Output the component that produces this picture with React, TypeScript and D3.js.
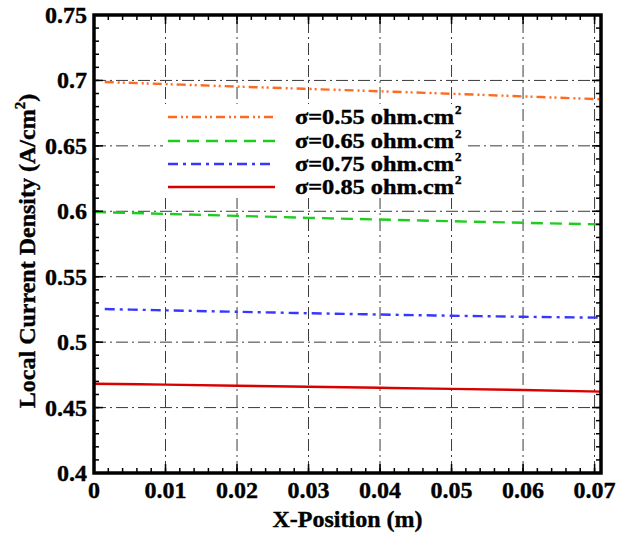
import React from "react";
import * as d3 from "d3";

// Local current density along the channel for four membrane resistances
const xs055 = [0.0015, 0.01, 0.02, 0.03, 0.04, 0.05, 0.06, 0.0709];
const ys055 = [0.6988, 0.6972, 0.6953, 0.6935, 0.6917, 0.6898, 0.6878, 0.6856];
const xs065 = [0.0, 0.01, 0.02, 0.03, 0.04, 0.05, 0.06, 0.0709];
const ys065 = [0.5995, 0.598, 0.5965, 0.595, 0.5937, 0.5924, 0.5912, 0.59];
const xs075 = [0.0015, 0.01, 0.02, 0.03, 0.04, 0.05, 0.06, 0.0709];
const ys075 = [0.5253, 0.5243, 0.5232, 0.5221, 0.5211, 0.5202, 0.5194, 0.5187];
const xs085 = [0.0, 0.01, 0.02, 0.03, 0.04, 0.05, 0.06, 0.0709];
const ys085 = [0.4682, 0.4675, 0.4667, 0.4659, 0.4651, 0.4643, 0.4634, 0.4622];

const seriesLabels = ["0.55", "0.65", "0.75", "0.85"];
const xTicks = [0, 0.01, 0.02, 0.03, 0.04, 0.05, 0.06, 0.07];
const xTickLabels = ["0", "0.01", "0.02", "0.03", "0.04", "0.05", "0.06", "0.07"];
const yTicks = [0.4, 0.45, 0.5, 0.55, 0.6, 0.65, 0.7, 0.75];
const yTickLabels = ["0.4", "0.45", "0.5", "0.55", "0.6", "0.65", "0.7", "0.75"];

const styles = [
  { color: "#ff6a1f", dash: "9,4,2,3,2,4" },
  { color: "#1fcc1f", dash: "12,7" },
  { color: "#3737ff", dash: "10,5,3,5" },
  { color: "#d90000", dash: "none" },
];

const W = 630;
const H = 535;
const M = { left: 94, right: 29, top: 15, bottom: 62 };
const FONT = "'Liberation Serif', 'Times New Roman', serif";
const FS = 24;
const textStyle = {
  fontFamily: FONT,
  fontWeight: "bold" as const,
  fontSize: FS,
  fill: "#000",
  stroke: "#000",
  strokeWidth: 0.4,
};

export default function App() {
  const x = d3.scaleLinear().domain([0, 0.0709]).range([M.left, W - M.right]);
  const y = d3.scaleLinear().domain([0.4, 0.75]).range([H - M.bottom, M.top]);
  const line = d3
    .line<[number, number]>()
    .x((d) => x(d[0]))
    .y((d) => y(d[1]))
    .curve(d3.curveMonotoneX);

  const data = [
    d3.zip(xs055, ys055) as [number, number][],
    d3.zip(xs065, ys065) as [number, number][],
    d3.zip(xs075, ys075) as [number, number][],
    d3.zip(xs085, ys085) as [number, number][],
  ];

  const x0 = M.left;
  const x1 = W - M.right;
  const y0 = H - M.bottom;
  const y1 = M.top;

  const xMinor = d3.range(0, 0.0709, 0.002);
  const yMinor = d3.range(0.4, 0.7501, 0.01);

  const legX = 168;
  const legRows = [117, 141, 164, 187];

  return (
    <svg width={W} height={H} style={{ position: "absolute", left: 0, top: 0, background: "#fff" }}>
      <rect width={W} height={H} fill="#fff" />
      {/* grid */}
      <g stroke="#3a3a3a" strokeWidth={1} strokeDasharray="12,4,2,4">
        {xTicks.slice(1).map((t) => (
          <line key={"gx" + t} x1={x(t)} x2={x(t)} y1={y0} y2={y1} />
        ))}
        {yTicks.slice(1, -1).map((t) => (
          <line key={"gy" + t} x1={x0} x2={x1} y1={y(t)} y2={y(t)} />
        ))}
      </g>
      {/* series */}
      {data.map((d, i) => (
        <path
          key={i}
          d={line(d) || ""}
          fill="none"
          stroke={styles[i].color}
          strokeWidth={2.4}
          strokeDasharray={styles[i].dash}
        />
      ))}
      {/* legend */}
      <rect x={163} y={104} width={305} height={94} fill="#fff" />
      {seriesLabels.map((s, i) => (
        <g key={s}>
          <line
            x1={legX}
            x2={legX + 107}
            y1={legRows[i]}
            y2={legRows[i]}
            stroke={styles[i].color}
            strokeWidth={2.4}
            strokeDasharray={styles[i].dash}
          />
          <text
            x={295}
            y={legRows[i] + 7}
            textLength={159}
            lengthAdjust="spacingAndGlyphs"
            style={{ ...textStyle, fontSize: 20 }}
          >
            {"σ=" + s + " ohm.cm"}
          </text>
          <text x={455} y={legRows[i] - 3} style={{ ...textStyle, fontSize: 13 }}>
            2
          </text>
        </g>
      ))}
      {/* ticks */}
      <g stroke="#000" strokeWidth={1.5}>
        {xTicks.map((t) => (
          <g key={"tx" + t}>
            <line x1={x(t)} x2={x(t)} y1={y0} y2={y0 - 9} />
            <line x1={x(t)} x2={x(t)} y1={y1} y2={y1 + 9} />
          </g>
        ))}
        {xMinor.map((t) => (
          <g key={"mx" + t}>
            <line x1={x(t)} x2={x(t)} y1={y0} y2={y0 - 5} />
            <line x1={x(t)} x2={x(t)} y1={y1} y2={y1 + 5} />
          </g>
        ))}
        {yTicks.map((t) => (
          <g key={"ty" + t}>
            <line x1={x0} x2={x0 + 9} y1={y(t)} y2={y(t)} />
            <line x1={x1} x2={x1 - 9} y1={y(t)} y2={y(t)} />
          </g>
        ))}
        {yMinor.map((t) => (
          <g key={"my" + t}>
            <line x1={x0} x2={x0 + 5} y1={y(t)} y2={y(t)} />
            <line x1={x1} x2={x1 - 5} y1={y(t)} y2={y(t)} />
          </g>
        ))}
      </g>
      {/* frame */}
      <rect x={x0} y={y1} width={x1 - x0} height={y0 - y1} fill="none" stroke="#000" strokeWidth={3.5} />
      {/* tick labels */}
      {xTicks.map((t, i) => (
        <text key={"lx" + t} x={x(t)} y={y0 + 25} textAnchor="middle" style={textStyle}>
          {xTickLabels[i]}
        </text>
      ))}
      {yTicks.map((t, i) => (
        <text key={"ly" + t} x={x0 - 7} y={y(t) + 8} textAnchor="end" style={textStyle}>
          {yTickLabels[i]}
        </text>
      ))}
      {/* axis titles */}
      <text x={(x0 + x1) / 2} y={527} textAnchor="middle" style={textStyle}>
        X-Position (m)
      </text>
      <text transform={`translate(35, 251) rotate(-90)`} textAnchor="middle" style={textStyle}>
        Local Current Density (A/cm
        <tspan dy={-10} style={{ fontSize: 15 }}>2</tspan>
        <tspan dy={10}>)</tspan>
      </text>
    </svg>
  );
}
